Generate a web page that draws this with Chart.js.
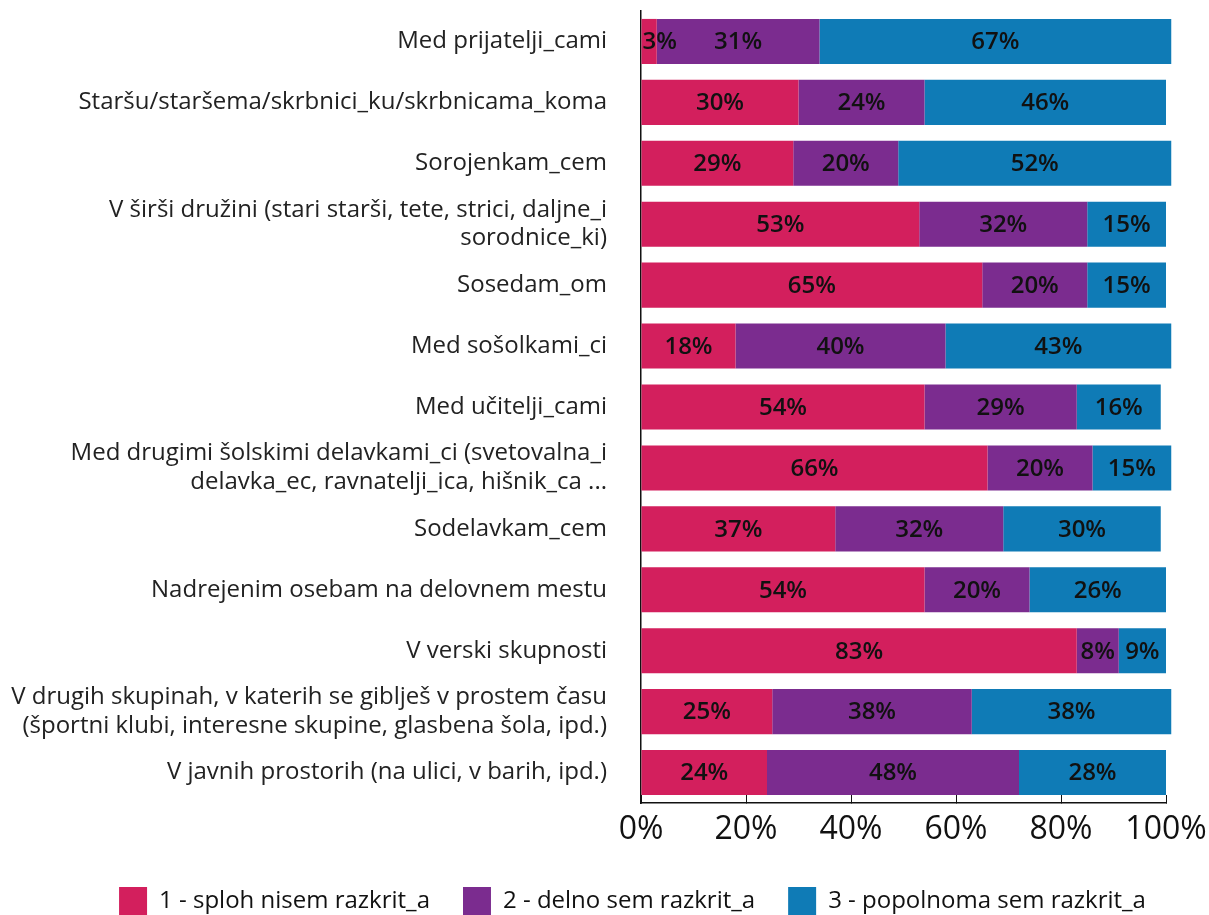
<!DOCTYPE html>
<html>
<head>
<meta charset="utf-8">
<script src="https://cdn.jsdelivr.net/npm/chart.js@4"></script>
<style>
  html, body { margin: 0; padding: 0; background: #fff; }
  #wrap { width: 1209px; height: 915px; position: relative; }
</style>
</head>
<body>
<div id="wrap"><canvas id="chart"></canvas></div>
<script>
// kategorije (y os)
const categories = [
    "Med prijatelji_cami",
    "Staršu/staršema/skrbnici_ku/skrbnicama_koma",
    "Sorojenkam_cem",
    ["V širši družini (stari starši, tete, strici, daljne_i", "sorodnice_ki)"],
    "Sosedam_om",
    "Med sošolkami_ci",
    "Med učitelji_cami",
    ["Med drugimi šolskimi delavkami_ci (svetovalna_i", "delavka_ec, ravnatelji_ica, hišnik_ca ..."],
    "Sodelavkam_cem",
    "Nadrejenim osebam na delovnem mestu",
    "V verski skupnosti",
    ["V drugih skupinah, v katerih se giblješ v prostem času", "(športni klubi, interesne skupine, glasbena šola, ipd.)"],
    "V javnih prostorih (na ulici, v barih, ipd.)"
];

const seriesNames = [
    "1 - sploh nisem razkrit_a",
    "2 - delno sem razkrit_a",
    "3 - popolnoma sem razkrit_a"
];

const notDisclosed = [3, 30, 29, 53, 65, 18, 54, 66, 37, 54, 83, 25, 24];
const partlyDisclosed = [31, 24, 20, 32, 20, 40, 29, 20, 32, 20, 8, 38, 48];
const fullyDisclosed = [67, 46, 52, 15, 15, 43, 16, 15, 30, 26, 9, 38, 28];

const xTicks = [0, 20, 40, 60, 80, 100];

const COLORS = ["#d31f5d", "#7b2c8f", "#0f7bb6"];
const FONT = "'Open Sans', 'Noto Sans', sans-serif";

// napisi vrednosti na sredini segmentov
const valueLabels = {
    id: "valueLabels",
    afterDatasetsDraw(chart) {
        const ctx = chart.ctx;
        ctx.save();
        ctx.font = "600 24px " + FONT;
        ctx.fillStyle = "#111";
        ctx.textAlign = "center";
        ctx.textBaseline = "middle";
        chart.data.datasets.forEach((ds, i) => {
            const meta = chart.getDatasetMeta(i);
            meta.data.forEach((bar, j) => {
                const txt = ds.data[j] + "%";
                const w = ctx.measureText(txt).width;
                const left = Math.min(bar.x, bar.base);
                let x = (bar.x + bar.base) / 2;
                if (x - w / 2 < left + 1) x = left + 1 + w / 2;
                ctx.fillText(txt, x, bar.y + 1);
            });
        });
        ctx.restore();
    }
};

// legenda je v izvirniku malo zamaknjena v desno
const legendShift = {
    id: "legendShift",
    afterLayout(chart) {
        if (chart.legend) {
            chart.legend.left += 56;
        }
    }
};

new Chart(document.getElementById("chart"), {
    type: "bar",
    data: {
        labels: categories,
        datasets: [notDisclosed, partlyDisclosed, fullyDisclosed].map((d, i) => ({
            label: seriesNames[i],
            data: d,
            backgroundColor: COLORS[i],
            borderWidth: 0,
            categoryPercentage: 1,
            barPercentage: 0.74,
            clip: false
        }))
    },
    options: {
        indexAxis: "y",
        responsive: true,
        maintainAspectRatio: false,
        animation: false,
        layout: { padding: { top: 0, right: 0, left: 0, bottom: -10 } },
        plugins: {
            legend: {
                position: "bottom",
                labels: {
                    font: { family: FONT, size: 24 },
                    color: "#111",
                    boxWidth: 28,
                    boxHeight: 28,
                    padding: 33
                }
            },
            tooltip: { enabled: false }
        },
        scales: {
            x: {
                stacked: true,
                min: 0,
                max: 100,
                afterBuildTicks: (scale) => { scale.ticks = xTicks.map(v => ({ value: v })); },
                afterFit: (scale) => {
                    scale.height = 51;
                    scale.paddingLeft = 0;
                    scale.paddingRight = 43;
                },
                border: { display: true, color: "#111", width: 1.5 },
                grid: { drawOnChartArea: false, drawTicks: true, tickLength: -8, color: "#111" },
                ticks: {
                    font: { family: FONT, size: 32 },
                    color: "#111",
                    padding: 16,
                    callback: (v) => v + "%"
                }
            },
            y: {
                stacked: true,
                afterFit: (scale) => {
                    scale.width = 641;
                    scale.paddingTop = 11;
                    scale.paddingBottom = 0;
                },
                border: { display: true, color: "#111", width: 1.5 },
                grid: { display: true, drawOnChartArea: false, drawTicks: true, tickLength: 34, color: "rgba(0,0,0,0)" },
                ticks: {
                    font: { family: FONT, size: 24, lineHeight: 1.2 },
                    color: "#222",
                    padding: 0
                }
            }
        }
    },
    plugins: [valueLabels, legendShift]
});
</script>
</body>
</html>
